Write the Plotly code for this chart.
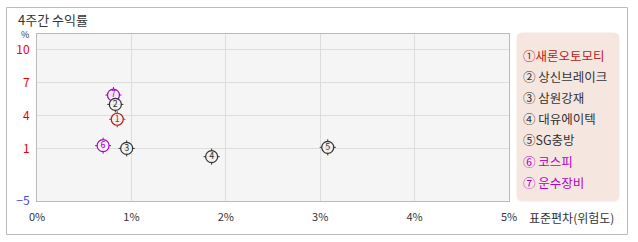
import plotly.graph_objects as go

names = ["새론오토모티", "상신브레이크", "삼원강재", "대유에이텍", "SG충방", "코스피", "운수장비"]
legend_labels = ["①새론오토모티", "② 상신브레이크", "③ 삼원강재", "④ 대유에이텍", "⑤SG충방", "⑥ 코스피", "⑦ 운수장비"]
point_labels = ["1", "2", "3", "4", "5", "6", "7"]
risk = [0.85, 0.83, 0.95, 1.85, 3.08, 0.70, 0.81]      # 표준편차 (%)
ret = [3.7, 5.05, 1.05, 0.3, 1.15, 1.3, 5.9]           # 4주간 수익률 (%)
colors = ["#b8201c", "#333333", "#333333", "#333333", "#333333", "#b000c8", "#b000c8"]

x_ticks = [0, 1, 2, 3, 4, 5]
x_ticktext = ["0%", "1%", "2%", "3%", "4%", "5%"]
y_min, y_max = -3.73, 11.45
y_ticks = [y_min, 1, 4, 7, 10]
y_ticktext = ["<span style='color:#4a4af0'>−5</span>", "1", "4", "7", "10"]

FONT = "Noto Sans CJK KR, DejaVu Sans, sans-serif"
W, H = 638, 242
L, R, T, B = 37, 509, 34, 201

def px(x):
    return (x - L) / (R - L)

def py(y):
    return (B - y) / (B - T)

order = list(range(len(names)))[::-1]
xs = [risk[i] for i in order]
ys = [ret[i] for i in order]
cs = [colors[i] for i in order]
ts = [point_labels[i] for i in order]

fig = go.Figure()
fig.add_trace(go.Scatter(
    x=xs, y=ys, mode="markers", hoverinfo="skip",
    marker=dict(symbol="cross-thin-open", size=11.5, color=cs, line=dict(color=cs, width=1)),
))
fig.add_trace(go.Scatter(
    x=xs, y=ys, mode="markers", hoverinfo="skip",
    marker=dict(symbol="circle", size=12, color="rgba(245,245,245,0.9)", line=dict(color=cs, width=1.2)),
))
fig.add_trace(go.Scatter(
    x=xs, y=ys, mode="text", text=ts, hoverinfo="skip",
    textposition="middle center",
    textfont=dict(family=FONT, size=9, color=cs),
))

shapes = []
# outer border
shapes.append(dict(type="rect", xref="paper", yref="paper",
                   x0=px(6.5), x1=px(627.5), y0=py(234.5), y1=py(7.5),
                   line=dict(color="#bbbbbb", width=1), fillcolor="rgba(0,0,0,0)", layer="below"))
# legend panel with rounded corners
lx0, lx1, ly0, ly1, r = 516.5, 619.5, 32.5, 201.5, 6
path = (f"M {px(lx0+r)},{py(ly0)} L {px(lx1-r)},{py(ly0)} Q {px(lx1)},{py(ly0)} {px(lx1)},{py(ly0+r)} "
        f"L {px(lx1)},{py(ly1-r)} Q {px(lx1)},{py(ly1)} {px(lx1-r)},{py(ly1)} "
        f"L {px(lx0+r)},{py(ly1)} Q {px(lx0)},{py(ly1)} {px(lx0)},{py(ly1-r)} "
        f"L {px(lx0)},{py(ly0+r)} Q {px(lx0)},{py(ly0)} {px(lx0+r)},{py(ly0)} Z")
shapes.append(dict(type="path", xref="paper", yref="paper", path=path,
                   fillcolor="#f5e7e0", line=dict(width=0), layer="below"))

annotations = []
legend_y = [55, 76, 97, 118, 139, 161, 182]
for lab, c, yy in zip(legend_labels, colors, legend_y):
    annotations.append(dict(text=lab, xref="paper", yref="paper", x=px(521), y=py(yy),
                            xanchor="left", yanchor="middle", showarrow=False,
                            font=dict(family=FONT, size=12.5, color=c)))
annotations.append(dict(text="4주간 수익률", xref="paper", yref="paper", x=px(16), y=py(19),
                        xanchor="left", yanchor="middle", showarrow=False,
                        font=dict(family=FONT, size=13, color="#333333")))
annotations.append(dict(text="%", xref="paper", yref="paper", x=px(25), y=py(34.5),
                        xanchor="center", yanchor="middle", showarrow=False,
                        font=dict(family=FONT, size=9, color="#333333")))
annotations.append(dict(text="표준편차(위험도)", xref="paper", yref="paper", x=px(527), y=py(217),
                        xanchor="left", yanchor="middle", showarrow=False,
                        font=dict(family=FONT, size=12, color="#333333")))

fig.update_layout(
    width=W, height=H,
    margin=dict(l=L, r=W - R, t=T, b=H - B),
    paper_bgcolor="white", plot_bgcolor="#f5f5f5",
    showlegend=False,
    shapes=shapes, annotations=annotations,
    xaxis=dict(range=[0, 5], tickvals=x_ticks, ticktext=x_ticktext,
               showgrid=True, gridcolor="#dddddd", gridwidth=1, zeroline=False,
               showline=True, linecolor="#bbbbbb", linewidth=1, mirror=True,
               ticks="", ticklabelstandoff=6,
               tickfont=dict(family=FONT, size=11, color="#333333")),
    yaxis=dict(range=[y_min, y_max], tickvals=y_ticks, ticktext=y_ticktext,
               showgrid=True, gridcolor="#dddddd", gridwidth=1, zeroline=False,
               showline=True, linecolor="#bbbbbb", linewidth=1, mirror=True,
               ticks="", ticklabelstandoff=4,
               tickfont=dict(family=FONT, size=12, color="#ee0000")),
)

fig.write_html("out.html")
